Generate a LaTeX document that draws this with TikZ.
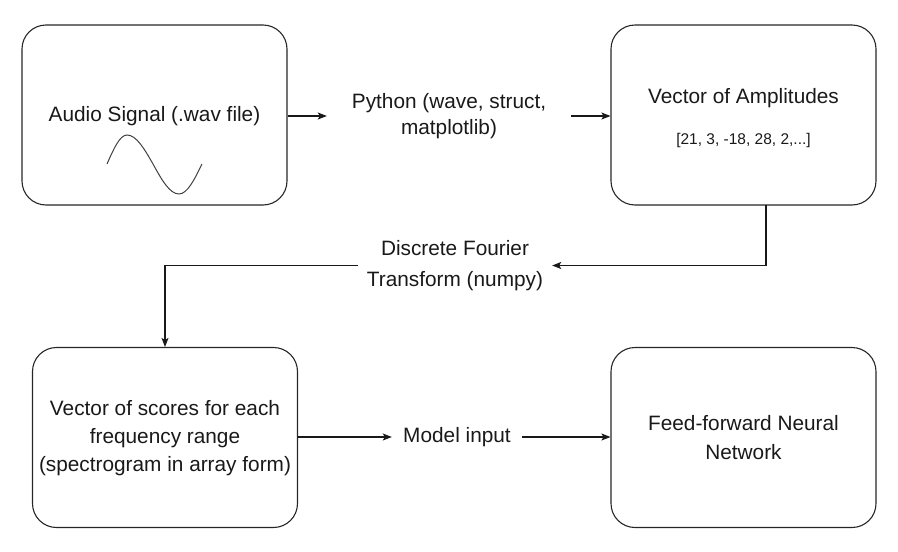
\documentclass[tikz,border=0pt]{standalone}
\usepackage{fontspec}
\setmainfont{Liberation Sans}
\usetikzlibrary{arrows.meta,positioning}
\begin{document}
\begin{tikzpicture}[x=1pt,y=-1pt,
  box/.style={draw=black!85, line width=1.1pt, rounded corners=24pt, minimum width=265pt, minimum height=180pt, inner sep=0pt},
  lbl/.style={font=\fontsize{20.8}{26}\selectfont, align=center, inner sep=0pt, text=black!90},
  small/.style={font=\fontsize{15.5}{18}\selectfont, inner sep=0pt, text=black!90},
  conn/.style={draw=black!90, line width=1.1pt},
  arr/.style={conn, -{Stealth[length=9pt,width=7pt,inset=2pt]}}]
\useasboundingbox (0,0) rectangle (898,552);
% boxes
\node[box] (b1) at (154.5,115) {};
\node[box] (b2) at (743.5,115) {};
\node[box] (b3) at (165,437.5) {};
\node[box] (b4) at (743.5,437.5) {};
% box texts
\node[lbl] (t1) at (154.5,116) {Audio Signal (.wav file)};
\draw[line width=1pt, black!75] (107,164) sin (127,135) cos (153,164) sin (179,194) cos (202,164);
\node[lbl] (t2) at (743.5,98) {Vector of Amplitudes};
\node[small] (t2b) at (743.5,140) {[21, 3, -18, 28, 2,...]};
\node[lbl, font=\fontsize{20.8}{28}\selectfont] (t3) at (165,438) {Vector of scores for each\\frequency range\\(spectrogram in array form)};
\node[lbl, font=\fontsize{20.8}{29}\selectfont] (t4) at (743.5,437.5) {Feed-forward Neural\\Network};
% edge labels
\node[lbl, minimum width=244pt] (py) at (449,116) {Python (wave, struct,\\matplotlib)};
\node[lbl, minimum width=194pt, font=\fontsize{20.8}{31}\selectfont] (dft) at (455,265.5) {Discrete Fourier\\Transform (numpy)};
\node[lbl, minimum width=130pt] (mi) at (457,437) {Model input};
\coordinate (b2out) at (766,205);
% connectors
\draw[arr] (b1.east |- py) -- (py.west);
\draw[arr] (py.east) -- (b2.west |- py);
\draw[arr] (b2out) |- (dft.east);
\draw[arr] (dft.west) -| (b3.north);
\draw[arr] (b3.east |- mi) -- (mi.west);
\draw[arr] (mi.east) -- (b4.west |- mi);
\end{tikzpicture}
\end{document}
